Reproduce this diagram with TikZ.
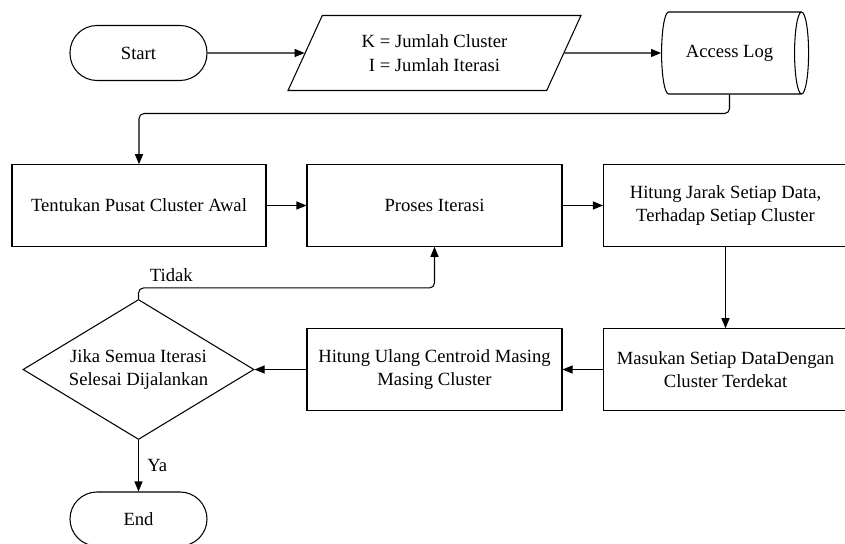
\documentclass[tikz,border=0pt]{standalone}
\usepackage{fontspec}
\setmainfont{Liberation Serif}
\usepackage{tikz}
\usetikzlibrary{arrows.meta, shapes.geometric}
\tikzset{
  every picture/.style={line width=0.6pt, font=\fontsize{10.6}{13.5}\selectfont},
  terminal/.style={draw, rectangle, rounded corners=0.54cm, minimum width=2.74cm, minimum height=1.1cm},
  io/.style={draw, trapezium, trapezium left angle=63.7, trapezium right angle=116.3, trapezium stretches=true, minimum width=5.86cm, minimum height=1.5cm, align=center},
  storage/.style={draw, cylinder, aspect=0.5, minimum height=2.94cm, minimum width=1.64cm},
  box/.style={draw, rectangle, minimum height=1.63cm, align=center},
  decision/.style={draw, diamond, aspect=1.65, minimum width=4.62cm, minimum height=2.8cm, inner sep=0pt, align=center},
  flow/.style={-{Triangle[length=2mm,width=1.6mm]}}
}

\begin{document}
\begin{tikzpicture}
    \useasboundingbox (0,0) rectangle (16.9,10.86);

    \node[terminal] (start) at (2.77, 9.80) {Start};
    \node[io] (input) at (8.69, 9.80) {K = Jumlah Cluster\\I = Jumlah Iterasi};
    \node[storage] (log) at (14.59, 9.80) {Access Log};

    \node[box, minimum width=5.08cm] (pusat) at (2.78, 6.75) {Tentukan Pusat Cluster Awal};
    \node[box, minimum width=5.10cm] (iterasi) at (8.69, 6.75) {Proses Iterasi};
    \node[box, minimum width=4.88cm] (jarak) at (14.51, 6.75) {Hitung Jarak Setiap Data,\\Terhadap Setiap Cluster};

    \node[box, minimum width=4.88cm] (dekat) at (14.51, 3.47) {Masukan Setiap DataDengan\\Cluster Terdekat};
    \node[box, minimum width=5.10cm] (centroid) at (8.69, 3.47) {Hitung Ulang Centroid Masing\\Masing Cluster};
    \node[decision] (cek) at (2.77, 3.47) {Jika Semua Iterasi\\Selesai Dijalankan};

    \node[terminal, minimum height=1.08cm] (end) at (2.77, 0.48) {End};

    \foreach \from/\to in {
      start/input, input/log,
      pusat/iterasi, iterasi/jarak, jarak/dekat,
      dekat/centroid, centroid/cek} \draw[flow] (\from) -- (\to);

    \draw[flow, rounded corners=0.1cm] (log.south) -- ++(0,-0.38) -| (pusat.north);
    \draw[flow, rounded corners=0.1cm] (cek.north) -- ++(0,0.22) node[anchor=south west, xshift=0.1cm] {Tidak} -| (iterasi.south);
    \draw[flow] (cek.south) -- node[right, xshift=0.05cm] {Ya} (end.north);
  \end{tikzpicture}
\end{document}
